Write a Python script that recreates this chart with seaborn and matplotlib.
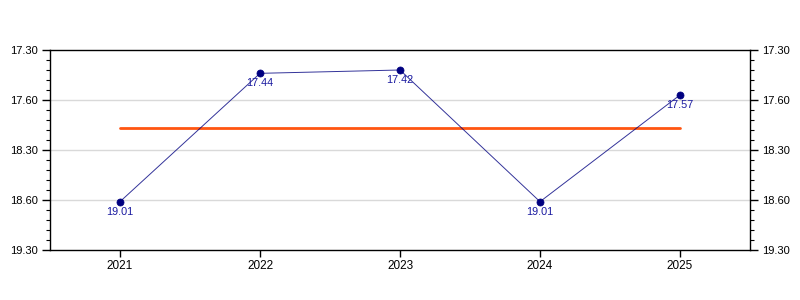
import matplotlib
matplotlib.use("Agg")
import matplotlib.pyplot as plt
from matplotlib.ticker import MultipleLocator
import seaborn as sns
import pandas as pd

years = [2021, 2022, 2023, 2024, 2025]
times = ["19.01", "17.44", "17.42", "19.01", "17.57"]   # minutes.seconds
ytick_labels = ["17.30", "17.60", "18.30", "18.60", "19.30"]
ytick_seconds = [1050, 1080, 1110, 1140, 1170]

def to_sec(t):
    m, s = t.split(".")
    return int(m) * 60 + int(s)

secs = [to_sec(t) for t in times]
df = pd.DataFrame({"year": years, "sec": secs, "label": times})
avg = sum(secs) / len(secs)

sns.set_style("white")
plt.rcParams["font.family"] = ["Liberation Sans", "DejaVu Sans"]

fig = plt.figure(figsize=(8, 3), dpi=100)
ax = fig.add_axes([50 / 800, 50 / 300, 700 / 800, 200 / 300])

for y in ytick_seconds[1:-1]:
    ax.axhline(y, color="#d9d9d9", lw=1, zorder=0)

sns.lineplot(data=pd.DataFrame({"year": [years[0], years[-1]], "sec": [avg, avg]}),
             x="year", y="sec", color="#ff5511", lw=2, ax=ax, zorder=2)
sns.lineplot(data=df, x="year", y="sec", color="#000080", lw=0.7, alpha=0.8, ax=ax, zorder=3)
sns.scatterplot(data=df, x="year", y="sec", color="#000080", s=26, edgecolor="#000080",
                linewidth=0.5, ax=ax, zorder=4)
for x, y, t in zip(df["year"], df["sec"], df["label"]):
    ax.text(x, y + 3.0, t, ha="center", va="top", color="#1a1aa0", fontsize=7.8, zorder=5)

ax.set_xlim(2020.5, 2025.5)
ax.set_ylim(ytick_seconds[-1], ytick_seconds[0])
ax.set_xticks(years)
ax.set_xticklabels([str(y) for y in years])
ax.set_yticks(ytick_seconds)
ax.set_yticklabels(ytick_labels)
ax.yaxis.set_minor_locator(MultipleLocator(6))
ax.set_xlabel("")
ax.set_ylabel("")

ax.tick_params(axis="y", which="major", direction="out", length=6, width=1, labelsize=8,
               left=True, right=True, labelleft=True, labelright=True, color="black",
               labelcolor="black", pad=3)
ax.tick_params(axis="y", which="minor", direction="out", length=3, width=0.8,
               left=True, right=True, color="black")
ax.tick_params(axis="x", which="major", direction="out", length=5, width=1, labelsize=8.5,
               bottom=True, top=False, color="black", labelcolor="black", pad=2)
for sp in ax.spines.values():
    sp.set_visible(True)
    sp.set_color("black")
    sp.set_linewidth(1)

fig.savefig("out.png", dpi=100, facecolor="white")
